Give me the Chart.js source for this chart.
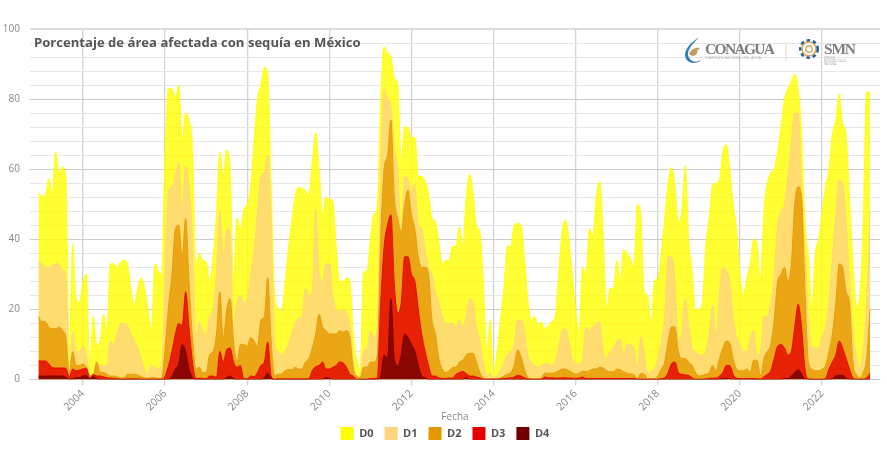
<!DOCTYPE html>
<html lang="es">
<head>
<meta charset="utf-8">
<title>Sequía en México</title>
<script src="https://cdn.jsdelivr.net/npm/chart.js@4/dist/chart.umd.min.js"></script>
<style>
  html, body { margin: 0; padding: 0; background: #fff; }
  #wrap { position: relative; width: 887px; height: 457px; overflow: hidden; }
  #titulo { position: absolute; left: 34px; top: 33px; font: bold 13.1px "Open Sans", sans-serif; color: #555; white-space: nowrap; }
  #logos { position: absolute; left: 680px; top: 34px; }
</style>
</head>
<body>
<div id="wrap">
  <canvas id="sequiaChart" width="887" height="457"></canvas>
  <div id="titulo">Porcentaje de área afectada con sequía en México</div>
  <svg id="logos" width="185" height="34" viewBox="0 0 185 34">
    <path d="M19 3C12 8 5 14 5 21c0 5 5 8 11 8-5-2-8-5-8-9 0-6 6-11 11-17z" fill="#2f7fc1"/>
    <path d="M9 20c2-5 7-7 11-6l-3 3c1 2-1 5-5 5z" fill="#c49a62"/>
    <path d="M6 24c4 4 10 5 15 2-3 4-12 4-15-2z" fill="#1f5f9e"/>
    <text x="25" y="20" font-family="Liberation Serif" font-weight="bold" font-size="15.5" fill="#808080" textLength="70">CONAGUA</text>
    <text x="25" y="24.5" font-family="Open Sans" font-size="3.4" fill="#a8a8a8" textLength="56">COMISIÓN NACIONAL DEL AGUA</text>
    <line x1="106" y1="8" x2="106" y2="27" stroke="#ead9bd" stroke-width="1"/>
    <circle cx="129" cy="15" r="7.5" fill="none" stroke="#1f5f9e" stroke-width="5" stroke-dasharray="3 2.5"/>
    <circle cx="129" cy="15" r="7" fill="#fff" stroke="#d9a55f" stroke-width="1.6"/>
    <circle cx="129" cy="15" r="3.2" fill="none" stroke="#d9a55f" stroke-width="1.4"/>
    <text x="144" y="20" font-family="Liberation Serif" font-weight="bold" font-size="15.5" fill="#808080" textLength="32">SMN</text>
    <text x="144" y="24.5" font-family="Open Sans" font-size="2.6" fill="#a8a8a8">SERVICIO</text>
    <text x="144" y="27.5" font-family="Open Sans" font-size="2.6" fill="#a8a8a8">METEOROLÓGICO</text>
    <text x="144" y="30.5" font-family="Open Sans" font-size="2.6" fill="#a8a8a8">NACIONAL</text>
  </svg>
</div>
<script>
// fecha de cada lectura (año-mes)
const fechas = [
  '2002-12','2003-01','2003-02','2003-03','2003-04','2003-05','2003-06','2003-07','2003-08','2003-09','2003-10','2003-11',
  '2003-12','2004-01','2004-02','2004-03','2004-04','2004-05','2004-06','2004-07','2004-08','2004-09','2004-10','2004-11',
  '2004-12','2005-01','2005-02','2005-03','2005-04','2005-05','2005-06','2005-07','2005-08','2005-09','2005-10','2005-11',
  '2005-12','2006-01','2006-02','2006-03','2006-04','2006-05','2006-06','2006-07','2006-08','2006-09','2006-10','2006-11',
  '2006-12','2007-01','2007-02','2007-03','2007-04','2007-05','2007-06','2007-07','2007-08','2007-09','2007-10','2007-11',
  '2007-12','2008-01','2008-02','2008-03','2008-04','2008-05','2008-06','2008-07','2008-08','2008-09','2008-10','2008-11',
  '2008-12','2009-01','2009-02','2009-03','2009-04','2009-05','2009-06','2009-07','2009-08','2009-09','2009-10','2009-11',
  '2009-12','2010-01','2010-02','2010-03','2010-04','2010-05','2010-06','2010-07','2010-08','2010-09','2010-10','2010-11',
  '2010-12','2011-01','2011-02','2011-03','2011-04','2011-05','2011-06','2011-07','2011-08','2011-09','2011-10','2011-11',
  '2011-12','2012-01','2012-02','2012-03','2012-04','2012-05','2012-06','2012-07','2012-08','2012-09','2012-10','2012-11',
  '2012-12','2013-01','2013-02','2013-03','2013-04','2013-05','2013-06','2013-07','2013-08','2013-09','2013-10','2013-11',
  '2013-12','2014-01','2014-02','2014-03','2014-04','2014-05','2014-06','2014-07','2014-08','2014-09','2014-10','2014-11',
  '2014-12','2015-01','2015-02','2015-03','2015-04','2015-05','2015-06','2015-07','2015-08','2015-09','2015-10','2015-11',
  '2015-12','2016-01','2016-02','2016-03','2016-04','2016-05','2016-06','2016-07','2016-08','2016-09','2016-10','2016-11',
  '2016-12','2017-01','2017-02','2017-03','2017-04','2017-05','2017-06','2017-07','2017-08','2017-09','2017-10','2017-11',
  '2017-12','2018-01','2018-02','2018-03','2018-04','2018-05','2018-06','2018-07','2018-08','2018-09','2018-10','2018-11',
  '2018-12','2019-01','2019-02','2019-03','2019-04','2019-05','2019-06','2019-07','2019-08','2019-09','2019-10','2019-11',
  '2019-12','2020-01','2020-02','2020-03','2020-04','2020-05','2020-06','2020-07','2020-08','2020-09','2020-10','2020-11',
  '2020-12','2021-01','2021-02','2021-03','2021-04','2021-05','2021-06','2021-07','2021-08','2021-09','2021-10','2021-11',
  '2021-12','2022-01','2022-02','2022-03','2022-04','2022-05','2022-06','2022-07','2022-08','2022-09','2022-10','2022-11',
  '2022-12','2023-01','2023-02','2023-03'
];

const D0 = [
  53.3,52.3,52.5,57.3,53,65,58.7,60.6,57.8,8,38.5,23,
  22,28,30,4,18,10,11,18.6,14,33,33,32,
  33.5,34,33,26,21,26,29,26,20,14,33,31,
  30,65,83,83,80.5,84,68,76,74,66,32,36,
  34,33.5,28,35,47,65,58,65.5,60,28,46,43,
  48.5,50,55,68,80,84,89,87,55,25,20.5,19.5,
  27,37,45,52,55,54.5,54,52.5,62,70.5,60,47,
  52,51.5,51,38,28,28,29,28,13,6,3,30.5,
  31,40,47,49,80,95,93,92,86,84,62,72,
  72,69,69,58,58,56.5,53,46,45,39,33,34,
  34,38,38,43.5,38,52,58.5,53,44,42,28,8,
  17,1.5,8,17,26,38,38,44,44.5,44,35,23,
  17,18,15.5,16.5,14.5,15.5,16.5,18,30,42,45.5,40,
  30,20,13,32,30,43,41,52,56.5,42,20,26,
  26,34,28,37,36,34.5,32,50,47,25,24,16,
  28,29,36,46,56,60.5,55,45,48,61,40,31,
  20,20,22,38,46,55.5,56,57,65,67,60,50,
  43,30,24,29,33,40,39,28,48,56,59,60,
  65,72,80,83,85,87,83,70,45,35,20,36,
  40,48,55,60,70,74,81.5,73,70,52,34,21,
  24,45,82,82
];
const D1 = [
  33.5,33,32,32,32.5,33,33,31,30.5,1,13.5,8,
  8,9.5,7,1,1,5,4,4,4,11,10,13,
  16,16,15.5,13,11,9,6,3,1.5,4,3.5,3,
  4,30,54,55,58,62,48,61,55,40,12,16.5,
  14,12.5,18,20,30,48,35,43,42,15,22,24,
  22,23,30,37,48,58,59,64,45,11,8,7,
  8,10,13,16,17.5,18,26,24,25,48.7,30,28,
  33,33,24,20,19.5,20,19,16,5,1,1,8,
  9,14,12,15,60,83,80,78,66,60,42,58,
  57,53,56,44,43,37,32,30,25,22,18,16,
  16,16,15,17,15,18,23,22,15,11,5,1,
  2,.5,1,2.5,5,7,8,10,17,17,14,7,
  5,4,3.5,4,4.5,4.5,4,5,9,14,14.5,11,
  6,4.5,4.5,6,15,14,15,16,16.5,8,6,8,
  9,11,11.5,7,10,10,9,3,12,8,2,2.5,
  3,6,11,18,35,35,28,11,14,23,16,9,
  8,7,7,8,13,21,12,25,32,31,28,18,
  12,10,8,8,12,14,7,8,18,18,22,30,
  44,48,50,58,68,76,76,55,36,17,9,9,
  9,12,15,22,35,47,57,56,46,28,14,7,
  3,9,22,48
];
const D2 = [
  18,16.5,16.5,15,14.5,14.5,15,14,12,2,8,4,
  4,4.5,3.5,1,1,5,2,2,1.5,1,1,.8,
  .5,.5,1.5,1.5,1.5,1.3,.8,.5,.3,.6,.5,.3,
  .4,9,21,30,43,44,35,46,28,12,3,3.5,
  2,2,7,8,13,25,12,20,23,11,5,10,
  10,9.5,12,11,9.5,17,18,29,11,1,1.5,1.5,
  2.5,2.8,2.8,3.5,3,3,5,6,9,13,18.6,15,
  14,13,13,13,14,13.5,14,12,3,1,.5,3.5,
  3.5,5,5,7,40,60,64,74,52,46,42,50,
  54,47,43,35,32,32,30,17,13,6,3,2,
  2.5,3.5,3.5,5,5.5,7,7.5,7.5,5,2,.5,.2,
  .2,.2,.2,.5,1,1.5,2,4,8.5,6.5,3,.6,
  .2,.2,.2,.5,1.8,1.8,1.8,2,2.5,3,3,2.5,
  2,1.5,1.8,2.4,2.2,2.5,3,3,3.5,3.3,2.5,2.2,
  2.2,3,2.8,2.2,1.8,1.6,1.4,.3,1.7,1.6,.2,.2,
  .3,1,3,5,11,15,15,8,6,6,5,4,
  2,1,1.2,1.5,2,4,2.5,6,9,11,10.5,6,
  3,2.5,2.5,3,2,5.5,5.5,1,6,8,10,17,
  28,30,32,28,33,50,55,52,25,5,3,2.5,
  2.5,3,4,8,13,22,33,32,25,22,5,1.5,
  .5,2,6,20
];
const D3 = [
  5.3,5.3,5.3,4.5,3.4,3.3,3.3,3.3,3.2,.8,3,2.5,
  2.7,3,3.2,.4,1.5,1,1,.8,.5,.4,.3,.2,
  .1,.1,.2,.2,.2,.2,.1,.1,.1,.1,.1,.1,
  .1,1,4,8,13,16,15.5,25,15,5,.3,.4,
  .3,.2,1,1,.6,8,5,8.5,9,5,3.5,4,
  .2,.2,1,.8,2,4,5,10.7,1,.1,.2,.2,
  .2,.2,.2,.2,.2,.2,.2,.2,2.5,3.7,4,5,
  3,3,3.5,4,5,4.8,3.5,1.5,1,.1,.1,.1,
  .1,.3,.3,.4,22,38,44,47,27,19,22,35,
  35,30,28,20,13,8,4,1,1,.5,.3,.3,
  .4,.4,1.5,2,2.3,1.7,1,1,.7,.5,.1,.1,
  .1,.1,.1,.2,.3,.4,.5,.7,1.2,1,.5,.2,
  .1,.1,.1,.1,.7,.5,.5,.4,.4,.5,.5,.4,
  .4,.3,.4,.7,.3,.3,.3,.3,.3,.3,.3,.3,
  .3,.3,.3,.3,.3,.3,.3,.1,.1,.1,.1,.1,
  .1,.1,.2,.5,2,4.5,5,2,1.5,1.3,1.2,.5,
  .1,.1,.1,.2,.3,.4,.4,1,2,4,4,1.5,
  .4,.3,.2,.3,.3,.3,.2,.2,.8,1.5,2.5,6,
  9.5,10,9,7,8,15,21.5,15,3,.2,.1,.1,
  .1,.1,.3,3,5,7,11,9,6,3,.5,.1,
  .1,.1,.5,1.8
];
const D4 = [
  1,1,1,1,1,1,1,1,.7,0,.3,.5,
  .5,1,1.1,.2,.9,.2,0,0,0,0,0,0,
  0,0,0,0,0,0,0,0,0,0,0,0,
  0,0,0,1,3,4.5,10,8,3,.5,0,0,
  0,0,0,0,0,0,0,.6,1,.2,0,0,
  0,0,0,0,0,0,.5,1.8,.2,0,0,0,
  0,0,0,0,0,0,0,0,0,0,0,0,
  .6,.3,0,0,0,0,0,0,0,0,0,0,
  0,0,0,0,1,7,6,23,6,4,7,13,
  12,10,8,4,1,.5,0,0,0,0,0,0,
  0,0,0,0,0,.5,0,0,0,0,0,0,
  0,0,0,0,0,0,0,0,0,0,0,0,
  0,0,0,0,0,0,0,0,0,0,0,0,
  0,0,0,0,0,0,0,0,0,0,0,0,
  0,0,0,0,0,0,0,0,0,0,0,0,
  0,0,0,0,0,0,0,0,0,0,0,0,
  0,0,0,0,0,0,0,0,.3,.3,.3,0,
  0,0,0,0,0,0,0,0,0,0,0,0,
  0,0,.3,.3,1,2,2.8,1.5,.1,0,0,0,
  0,0,0,0,.3,1,1.2,1.2,.5,0,0,0,
  0,0,0,0
];

const niveles = ['D0', 'D1', 'D2', 'D3', 'D4'];
const valores = [D0, D1, D2, D3, D4];
const colores = ['255, 255, 0', '255, 211, 127', '230, 152, 0', '230, 0, 0', '115, 0, 0'];

function aAnio(fecha) {
    const partes = fecha.split('-');
    return Number(partes[0]) + (Number(partes[1]) - 1) / 12;
}

// la leyenda va un poco a la derecha del centro del lienzo
const moverLeyenda = {
    id: 'moverLeyenda',
    afterLayout: function(chart) {
        chart.legend.left += 5;
        chart.legend.right += 5;
    }
};

const ctx = document.getElementById('sequiaChart').getContext('2d');
new Chart(ctx, {
    type: 'line',
    plugins: [moverLeyenda],
    data: {
        datasets: niveles.map(function(nivel, i) {
            return {
                label: nivel,
                data: valores[i].map(function(v, j) { return { x: aAnio(fechas[j]), y: v }; }),
                borderColor: 'rgba(' + colores[i] + ', 0.85)',
                backgroundColor: 'rgba(' + colores[i] + ', 0.8)',
                borderWidth: 1,
                pointRadius: 0,
                fill: 'origin',
                cubicInterpolationMode: 'monotone',
                order: niveles.length - i
            };
        })
    },
    options: {
        responsive: false,
        animation: false,
        devicePixelRatio: 1,
        layout: { padding: { left: 0, right: 7, top: 29, bottom: 7 } },
        plugins: {
            tooltip: { enabled: false },
            title: { display: false },
            legend: {
                position: 'bottom',
                labels: {
                    boxWidth: 13,
                    boxHeight: 13,
                    padding: 11,
                    color: '#555',
                    font: { family: 'Open Sans', size: 11, weight: 'bold' },
                    sort: function(a, b) { return a.datasetIndex - b.datasetIndex; },
                    generateLabels: function(chart) {
                        return niveles.map(function(nivel, i) {
                            return {
                                text: nivel,
                                datasetIndex: i,
                                fillStyle: 'rgb(' + colores[i] + ')',
                                strokeStyle: 'rgb(' + colores[i] + ')',
                                lineWidth: 0,
                                fontColor: '#555'
                            };
                        });
                    }
                }
            }
        },
        scales: {
            x: {
                type: 'linear',
                min: 2002.71,
                max: 2023.41,
                afterFit: function(scale) { scale.height = 36.5; },
                grid: { color: '#d4d4d4', lineWidth: 1.3, tickLength: 6, tickColor: '#d4d4d4' },
                border: { display: false },
                ticks: {
                    stepSize: 2,
                    includeBounds: false,
                    minRotation: 45,
                    maxRotation: 45,
                    padding: 2,
                    color: '#888',
                    font: { family: 'Open Sans', size: 10.5 },
                    callback: function(v) { return String(v); }
                },
                title: {
                    display: true,
                    text: 'Fecha',
                    color: '#888',
                    font: { family: 'Open Sans', size: 10 },
                    padding: { top: 0, bottom: -7.5 }
                }
            },
            y: {
                min: 0,
                max: 100,
                afterFit: function(scale) { scale.width = 30; },
                grid: {
                    drawTicks: false,
                    color: function(c) {
                        if (c.tick.value === 100) return '#dddddd';
                        return c.tick.value % 20 === 0 ? '#cdcdcd' : '#e6e6e6';
                    },
                    lineWidth: function(c) { return c.tick.value === 100 ? 2 : 1; }
                },
                border: { display: false },
                ticks: {
                    stepSize: 4,
                    autoSkip: false,
                    padding: 10,
                    color: '#888',
                    font: { family: 'Open Sans', size: 10 },
                    callback: function(v) { return v % 20 === 0 ? String(v) : ''; }
                }
            }
        }
    }
});
</script>
</body>
</html>
